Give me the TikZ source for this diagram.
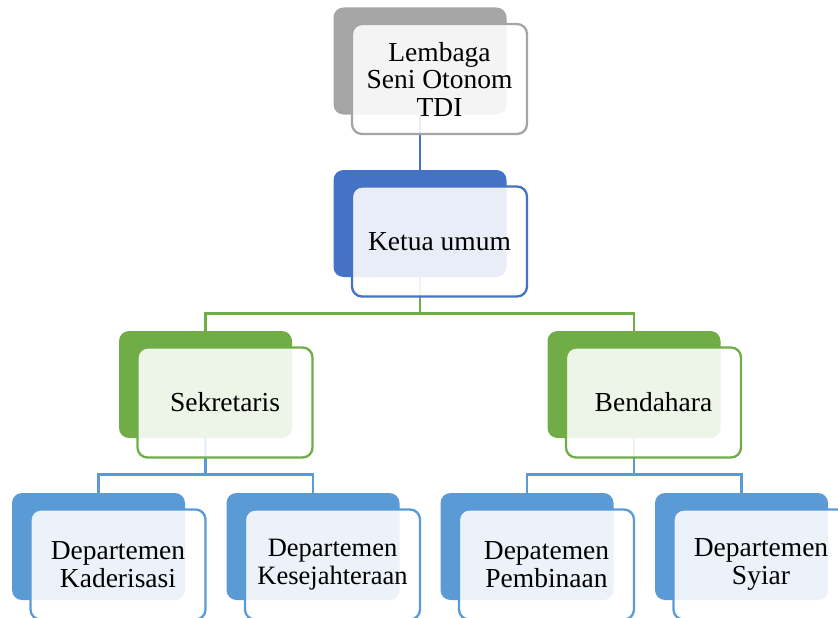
\documentclass[tikz,border=0pt]{standalone}
\usepackage{fontspec}
\setmainfont{Liberation Serif}
\usetikzlibrary{backgrounds}
\definecolor{grayacc}{HTML}{A5A5A5}
\definecolor{blueacc}{HTML}{4472C4}
\definecolor{greenacc}{HTML}{70AD47}
\definecolor{skyacc}{HTML}{5B9BD5}
\begin{document}
\begin{tikzpicture}[x=1pt,y=1pt,
	back/.style={rectangle,rounded corners=10pt,fill=#1,minimum width=173pt,minimum height=107pt,inner sep=0},
	front/.style={rectangle,rounded corners=10pt,draw=#1,line width=2.3pt,fill=white,fill opacity=0.88,text opacity=1,
		minimum width=175pt,minimum height=110pt,inner sep=0,align=center,font=\fontsize{27.5}{28}\selectfont},
	link/.style={draw=#1,line width=2.6pt}]
\path[use as bounding box,clip] (0,0) rectangle (838,-618);
\node[back=grayacc] (lembaga) at (420,-61) {};
\node[back=blueacc] (ketua) at (420,-223.5) {};
\node[back=greenacc] (sekretaris) at (205.5,-384.5) {};
\node[back=greenacc] (bendahara) at (634,-384.5) {};
\node[back=skyacc] (kaderisasi) at (98.5,-546.5) {};
\node[back=skyacc] (kesejahteraan) at (313,-546.5) {};
\node[back=skyacc] (pembinaan) at (527,-546.5) {};
\node[back=skyacc] (syiar) at (741.5,-546.5) {};
\node[front=grayacc,font=\fontsize{27.5}{27.5}\selectfont] (lembagaF) at ([shift={(19.5,-18)}]lembaga.center) {Lembaga\\Seni Otonom\\TDI};
\node[front=blueacc] (ketuaF) at ([shift={(19.5,-18)}]ketua.center) {Ketua umum};
\node[front=greenacc] (sekretarisF) at ([shift={(19.5,-18)}]sekretaris.center) {Sekretaris};
\node[front=greenacc] (bendaharaF) at ([shift={(19.5,-18)}]bendahara.center) {Bendahara};
\node[front=skyacc] (kaderisasiF) at ([shift={(19.5,-18)}]kaderisasi.center) {Departemen\\Kaderisasi};
\node[front=skyacc,font=\fontsize{26.5}{28}\selectfont] (kesejahteraanF) at ([shift={(19.5,-18)}]kesejahteraan.center) {Departemen\\Kesejahteraan};
\node[front=skyacc] (pembinaanF) at ([shift={(19.5,-18)}]pembinaan.center) {Depatemen\\Pembinaan};
\node[front=skyacc] (syiarF) at ([shift={(19.5,-18)}]syiar.center) {Departemen\\Syiar};
\begin{scope}[on background layer]
	\draw[link=blueacc] (lembaga.south) -- (ketua.north);
	\draw[link=greenacc] (ketua.south) -- ++(0,-36) -| (sekretaris.north);
	\draw[link=greenacc] (ketua.south) -- ++(0,-36) -| (bendahara.north);
	\draw[link=skyacc] (sekretaris.south) -- ++(0,-36) -| (kaderisasi.north);
	\draw[link=skyacc] (sekretaris.south) -- ++(0,-36) -| (kesejahteraan.north);
	\draw[link=skyacc] (bendahara.south) -- ++(0,-36) -| (pembinaan.north);
	\draw[link=skyacc] (bendahara.south) -- ++(0,-36) -| (syiar.north);
\end{scope}
\end{tikzpicture}
\end{document}
